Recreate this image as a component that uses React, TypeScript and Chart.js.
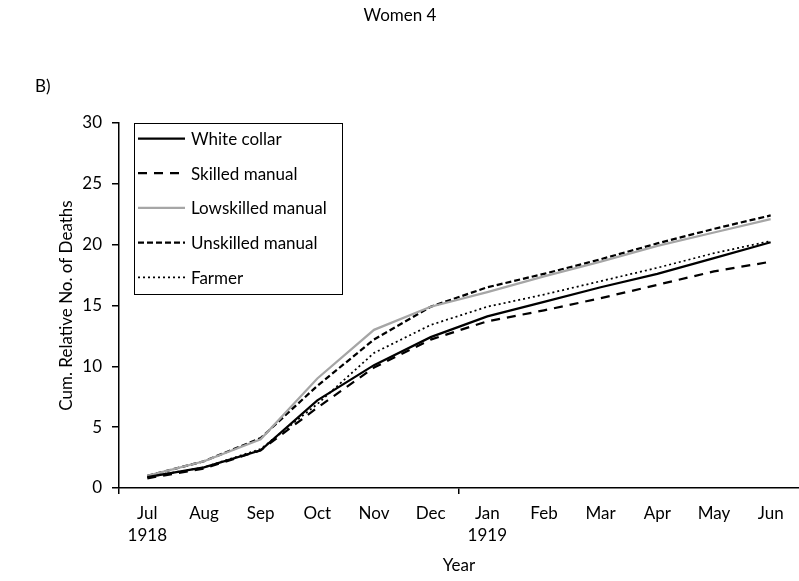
import { useEffect, useRef } from "react";
import { Chart, registerables } from "chart.js";

Chart.register(...registerables);

const FONT = "Lato, 'DejaVu Sans', sans-serif";

const chartTitle = "Women 4";
const panelLabel = "B)";
const xTitle = "Year";
const yTitle = "Cum. Relative No. of Deaths";

const months: (string | string[])[] = [
  ["Jul", "1918"], "Aug", "Sep", "Oct", "Nov", "Dec",
  ["Jan", "1919"], "Feb", "Mar", "Apr", "May", "Jun",
];

const seriesNames = ["White collar", "Skilled manual", "Lowskilled manual", "Unskilled manual", "Farmer"];

const whiteCollar = [0.9, 1.7, 3.1, 7.2, 10.1, 12.4, 14.1, 15.3, 16.5, 17.6, 18.9, 20.2];
const skilledManual = [0.8, 1.6, 3.1, 6.6, 9.9, 12.2, 13.7, 14.6, 15.6, 16.7, 17.8, 18.6];
const lowskilledManual = [1.0, 2.2, 4.0, 9.0, 13.0, 14.9, 16.1, 17.4, 18.6, 19.9, 21.0, 22.1];
const unskilledManual = [1.0, 2.2, 4.1, 8.4, 12.2, 14.9, 16.5, 17.6, 18.8, 20.1, 21.3, 22.4];
const farmer = [0.9, 1.7, 3.2, 6.9, 11.1, 13.4, 14.9, 15.9, 17.0, 18.1, 19.3, 20.3];

const yMin = 0;
const yMax = 30;
const yStep = 5;

const overlayPlugin = {
  id: "overlay",
  afterDraw(chart: any) {
    const ctx = chart.ctx as CanvasRenderingContext2D;
    ctx.save();
    ctx.fillStyle = "#000";
    ctx.font = `17px ${FONT}`;
    ctx.textBaseline = "middle";
    ctx.textAlign = "center";
    ctx.fillText(chartTitle, 400, 16);
    ctx.textAlign = "left";
    ctx.fillText(panelLabel, 35, 87);

    // legend box
    const x0 = 134, y0 = 123, w = 208, h = 171;
    ctx.fillStyle = "#fff";
    ctx.fillRect(x0, y0, w, h);
    ctx.strokeStyle = "#000";
    ctx.lineWidth = 1;
    ctx.strokeRect(x0 + 0.5, y0 + 0.5, w, h);
    chart.data.datasets.forEach((ds: any, i: number) => {
      const y = 138.5 + i * 34.7;
      ctx.beginPath();
      ctx.setLineDash(ds.borderDash || []);
      ctx.strokeStyle = ds.borderColor;
      ctx.lineWidth = ds.borderWidth;
      ctx.lineCap = "butt";
      ctx.moveTo(138, y);
      ctx.lineTo(185, y);
      ctx.stroke();
      ctx.setLineDash([]);
      ctx.fillStyle = "#000";
      ctx.fillText(ds.label, 191, y + 1);
    });
    ctx.restore();
  },
};

export default function App() {
  const ref = useRef<HTMLCanvasElement>(null);

  useEffect(() => {
    if (!ref.current) return;
    const chart = new Chart(ref.current, {
      type: "line",
      data: {
        labels: months,
        datasets: [
          { label: seriesNames[0], data: whiteCollar, borderColor: "#000", borderWidth: 2.25, borderDash: [] },
          { label: seriesNames[1], data: skilledManual, borderColor: "#000", borderWidth: 2.25, borderDash: [9, 7] },
          { label: seriesNames[2], data: lowskilledManual, borderColor: "#A6A6A6", borderWidth: 2.25, borderDash: [] },
          { label: seriesNames[3], data: unskilledManual, borderColor: "#000", borderWidth: 2.25, borderDash: [6, 3] },
          { label: seriesNames[4], data: farmer, borderColor: "#000", borderWidth: 1.75, borderDash: [2, 3] },
        ].map((d) => ({ ...d, pointRadius: 0, tension: 0, fill: false, borderCapStyle: "butt" as const })),
      },
      options: {
        responsive: false,
        animation: false,
        layout: { padding: { top: 123, left: 0, right: 0, bottom: 0 } },
        plugins: { legend: { display: false }, title: { display: false }, tooltip: { enabled: false } },
        scales: {
          x: {
            type: "category",
            offset: true,
            grid: {
              offset: true,
              drawOnChartArea: false,
              drawTicks: true,
              tickLength: 6,
              lineWidth: 1.5,
              color: (c: any) => (c.index === 0 || c.index === 6 ? "#000" : "rgba(0,0,0,0)"),
            },
            border: { display: true, color: "#000", width: 1.5 },
            ticks: {
              color: "#000",
              font: { family: FONT, size: 17, lineHeight: 1.3 },
              padding: 8,
              maxRotation: 0,
              autoSkip: false,
            },
            title: {
              display: true,
              text: xTitle,
              color: "#000",
              font: { family: FONT, size: 17, lineHeight: 1.2 },
              padding: { top: 0, bottom: 5 },
            },
            afterFit: (s: any) => { s.height = 93; },
          },
          y: {
            min: yMin,
            max: yMax,
            grid: { drawOnChartArea: false, drawTicks: true, tickLength: 7, color: "#000", lineWidth: 1.5 },
            border: { display: true, color: "#000", width: 1.5 },
            ticks: {
              stepSize: yStep,
              color: "#000",
              font: { family: FONT, size: 17 },
              padding: 10,
            },
            title: {
              display: true,
              text: yTitle,
              color: "#000",
              font: { family: FONT, size: 17, lineHeight: 1.2 },
              padding: { top: 56, bottom: 0 },
            },
            afterFit: (s: any) => { s.width = 119; },
          },
        },
      },
      plugins: [overlayPlugin],
    });
    return () => chart.destroy();
  }, []);

  return (
    <div style={{ position: "fixed", left: 0, top: 0, width: 799, height: 581, background: "#fff" }}>
      <canvas ref={ref} width={799} height={581} style={{ width: 799, height: 581 }} />
    </div>
  );
}
